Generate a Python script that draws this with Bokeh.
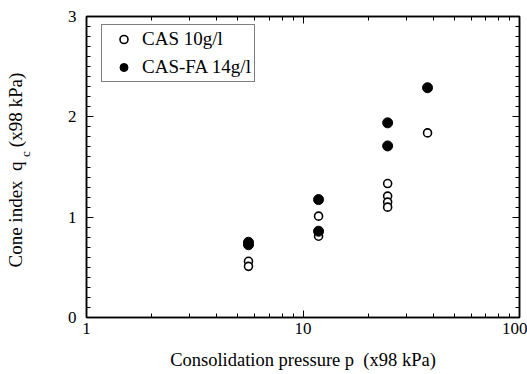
import math
from bokeh.plotting import figure
from bokeh.models import (FixedTicker, SingleIntervalTicker, LogAxis, LinearAxis,
                          Legend, LegendItem, Range1d, PrintfTickFormatter, Title)
from bokeh.embed import file_html
from bokeh.resources import INLINE

# ---- data ----
cas_p = [5.6, 5.6, 11.8, 11.8, 24.6, 24.6, 24.6, 24.6, 37.6]
cas_qc = [0.56, 0.51, 1.01, 0.81, 1.335, 1.21, 1.15, 1.10, 1.84]
fa_p = [5.6, 5.6, 11.8, 11.8, 24.6, 24.6, 37.6]
fa_qc = [0.75, 0.725, 1.175, 0.86, 1.94, 1.71, 2.29]

series_labels = ["CAS 10g/l", "CAS-FA 14g/l"]
x_major = [1, 10, 100]
x_minor = [2, 3, 4, 5, 6, 7, 8, 9, 20, 30, 40, 50, 60, 70, 80, 90]
x_title = "Consolidation pressure p\u00a0 (x98 kPa)"
y_title_main = "Cone index\u00a0\u00a0q\u00a0\u00a0\u00a0(x98 kPa)"
y_title_sub = "\u00a0" * 8 + "c"

FONT = "Liberation Serif"

p = figure(width=527, height=374, x_axis_type="log",
           x_range=Range1d(1, 100), y_range=Range1d(0, 3),
           output_backend="svg", toolbar_location=None,
           min_border_left=86, min_border_right=8,
           min_border_top=16, min_border_bottom=57)
p.xgrid.visible = False
p.ygrid.visible = False
p.outline_line_color = "black"
p.outline_line_width = 1.5
p.background_fill_color = "white"
p.border_fill_color = "white"

def style_axis(ax, labels=True):
    ax.axis_line_color = "black"
    ax.axis_line_width = 1.5
    ax.major_tick_in = 7
    ax.major_tick_out = 0
    ax.minor_tick_in = 4
    ax.minor_tick_out = 0
    ax.major_tick_line_color = "black"
    ax.minor_tick_line_color = "black"
    ax.major_tick_line_width = 1
    ax.minor_tick_line_width = 1
    ax.major_label_text_font = FONT
    ax.major_label_text_color = "black"
    ax.major_label_text_font_size = "17px"
    if not labels:
        ax.major_label_text_font_size = "0px"
        ax.major_label_text_color = None
        ax.major_label_standoff = 0

xticker = FixedTicker(ticks=x_major, minor_ticks=x_minor)
yticker = SingleIntervalTicker(interval=1, num_minor_ticks=10)

xa = p.xaxis[0]
xa.ticker = xticker
xa.formatter = PrintfTickFormatter(format="%d")
style_axis(xa)
xa.major_label_standoff = 5
xa.axis_label = x_title
xa.axis_label_text_font = FONT
xa.axis_label_text_font_style = "normal"
xa.axis_label_text_font_size = "18.5px"
xa.axis_label_text_color = "black"
xa.axis_label_standoff = 13

ya = p.yaxis[0]
ya.ticker = yticker
style_axis(ya)
ya.major_label_standoff = 10
# subscript "c" of q_c is carried by the axis label; main text by a side title
ya.axis_label = y_title_sub
ya.axis_label_text_font = FONT
ya.axis_label_text_font_style = "normal"
ya.axis_label_text_font_size = "13px"
ya.axis_label_text_color = "black"
ya.axis_label_standoff = 32

top = LogAxis(ticker=xticker)
style_axis(top, labels=False)
p.add_layout(top, "above")
right = LinearAxis(ticker=yticker)
style_axis(right, labels=False)
p.add_layout(right, "right")

r_open = p.scatter(cas_p, cas_qc, marker="circle", size=8, fill_color="white",
                   line_color="black", line_width=1.6)
r_fill = p.scatter(fa_p, fa_qc, marker="circle", size=10, fill_color="black",
                   line_color="black", line_width=1)

legend = Legend(items=[LegendItem(label=series_labels[0], renderers=[r_open]),
                       LegendItem(label=series_labels[1], renderers=[r_fill])],
                location=(15, 235.5), margin=0, padding=3, spacing=6,
                glyph_width=37, glyph_height=20, label_height=20, label_standoff=0,
                label_text_font=FONT, label_text_font_size="19px", label_text_color="black",
                border_line_color="black", border_line_width=1.5,
                background_fill_color="white", background_fill_alpha=1)
p.add_layout(legend)

main_t = Title(text=y_title_main, align="left", offset=50, standoff=-23,
               text_font=FONT, text_font_size="19px", text_font_style="normal",
               text_color="black")
p.add_layout(main_t, "left")

open("out.html", "w").write(file_html(p, INLINE))
